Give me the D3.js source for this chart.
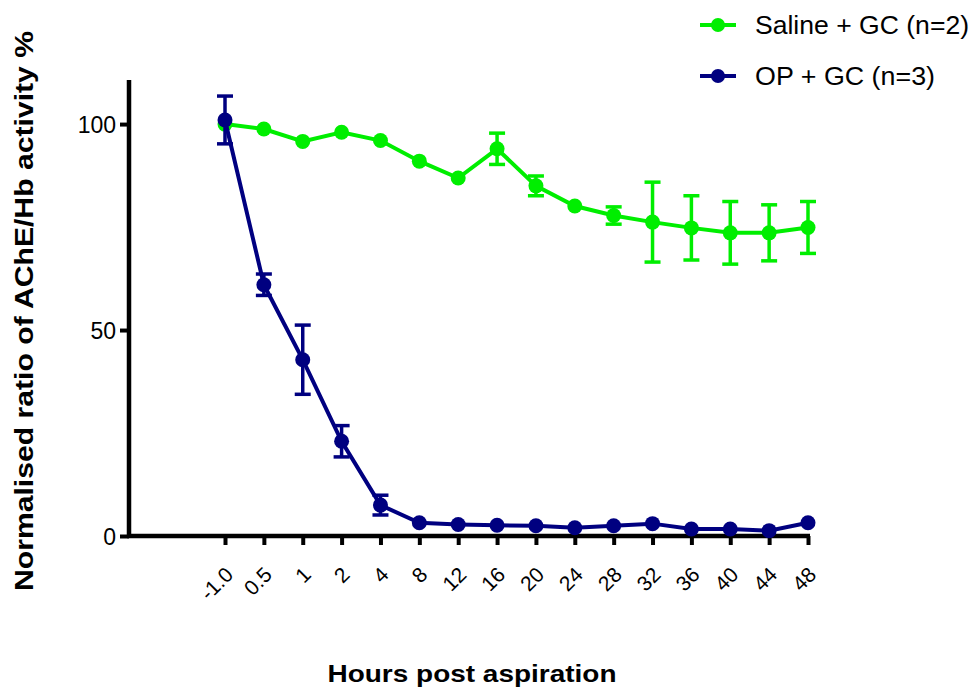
<!DOCTYPE html>
<html><head><meta charset="utf-8">
<script src="https://cdn.jsdelivr.net/npm/d3@7"></script>
<style>body{margin:0;background:#fff}svg{display:block}</style>
</head><body>
<script>
const categories = ["-1.0","0.5","1","2","4","8","12","16","20","24","28","32","36","40","44","48"];
const salineMean = [100,98.8,95.8,98,96,91,86.9,94,85,80.1,77.8,76.2,74.8,73.6,73.6,74.9];
const salineErr  = [0,0,0,0,0,0,0,3.8,2.4,0,2.1,9.7,7.8,7.6,6.8,6.3];
const opMean = [101,61,42.8,23,7.5,3.2,2.8,2.6,2.5,2,2.5,3,1.7,1.7,1.3,3.2];
const opErr  = [5.8,2.6,8.4,3.8,2.4,0,0,0,0,0,0,0,0,0,0,0];
const yTicks = [0,50,100];
const seriesNames = ["Saline + GC (n=2)","OP + GC (n=3)"];
const colors = ["#00ee00","#000080"];

const W=975,H=690;
const svg=d3.select("body").append("svg").attr("width",W).attr("height",H)
  .style("font-family","'Liberation Sans', Arial, sans-serif");

const x=d3.scaleLinear().domain([-2.47,15]).range([129,808]);
const y=d3.scaleLinear().domain([0,110.7]).range([536,80]);

// axes
const yAxis=svg.append("g").attr("transform","translate(129,0)")
  .call(d3.axisLeft(y).tickValues(yTicks).tickSize(9).tickPadding(4).tickFormat(d3.format("d")));
yAxis.select(".domain").attr("d",`M0,${y(110.7)}V${y(0)+2}`).attr("stroke","#000").attr("stroke-width",4.5);
yAxis.selectAll(".tick line").attr("stroke","#000").attr("stroke-width",4);
yAxis.selectAll(".tick text").attr("font-size",23).attr("fill","#000").attr("dy","0.36em");

const xAxis=svg.append("g").attr("transform",`translate(0,${y(0)})`)
  .call(d3.axisBottom(x).tickValues(d3.range(categories.length)).tickSize(9).tickFormat(i=>categories[i]));
xAxis.select(".domain").attr("d",`M127,0H810`).attr("stroke","#000").attr("stroke-width",4.5);
xAxis.selectAll(".tick line").attr("stroke","#000").attr("stroke-width",4);
xAxis.selectAll(".tick text").attr("font-size",21).attr("fill","#000")
  .attr("text-anchor","end").attr("dy",0).attr("y",0)
  .attr("transform","translate(9,40) rotate(-45)");

const series=[
  {mean:salineMean,err:salineErr,color:colors[0]},
  {mean:opMean,err:opErr,color:colors[1]}
];
const line=d3.line().x((d,i)=>x(i)).y(d=>y(d));
series.forEach(s=>{
  const g=svg.append("g");
  g.append("path").datum(s.mean).attr("d",line).attr("fill","none")
    .attr("stroke",s.color).attr("stroke-width",4);
  s.mean.forEach((m,i)=>{
    const e=s.err[i];
    if(e>0){
      g.append("line").attr("x1",x(i)).attr("x2",x(i)).attr("y1",y(m-e)).attr("y2",y(m+e))
        .attr("stroke",s.color).attr("stroke-width",3.5);
      [m-e,m+e].forEach(v=>g.append("line").attr("x1",x(i)-8).attr("x2",x(i)+8)
        .attr("y1",y(v)).attr("y2",y(v)).attr("stroke",s.color).attr("stroke-width",3.5));
    }
  });
  g.selectAll("circle").data(s.mean).join("circle")
    .attr("cx",(d,i)=>x(i)).attr("cy",d=>y(d)).attr("r",7.5).attr("fill",s.color);
});

// legend
const leg=svg.append("g");
seriesNames.forEach((n,k)=>{
  const yy=25+k*51;
  leg.append("line").attr("x1",700).attr("x2",736).attr("y1",yy).attr("y2",yy)
    .attr("stroke",colors[k]).attr("stroke-width",4);
  leg.append("circle").attr("cx",718).attr("cy",yy).attr("r",7).attr("fill",colors[k]);
  leg.append("text").attr("x",755).attr("y",yy+9).attr("font-size",25).attr("fill","#000")
    .attr("textLength",k===0?214:180).attr("lengthAdjust","spacingAndGlyphs").text(n);
});

// titles
svg.append("text").attr("transform","translate(33,311) rotate(-90)").attr("text-anchor","middle")
  .attr("font-size",26).attr("font-weight","bold").attr("fill","#000")
  .attr("textLength",560).attr("lengthAdjust","spacingAndGlyphs")
  .text("Normalised ratio of AChE/Hb activity %");
svg.append("text").attr("x",472).attr("y",682).attr("text-anchor","middle")
  .attr("font-size",24).attr("font-weight","bold").attr("fill","#000")
  .attr("textLength",289).attr("lengthAdjust","spacingAndGlyphs")
  .text("Hours post aspiration");
</script>
</body></html>
